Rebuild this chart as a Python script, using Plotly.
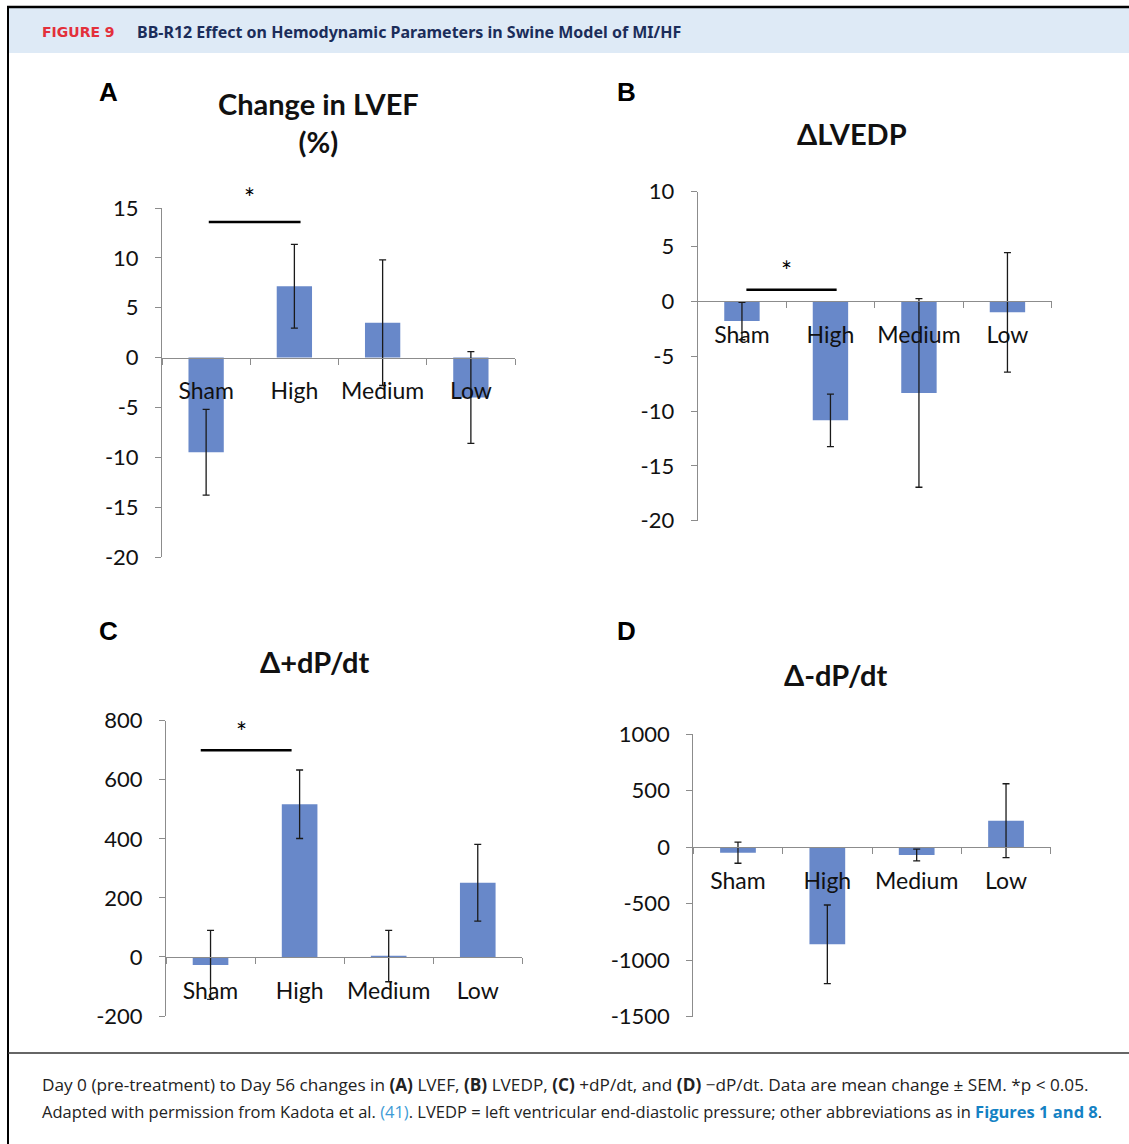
import plotly.graph_objects as go

# ---------------- data ----------------
categories = ["Sham", "High", "Medium", "Low"]

lvef_mean = [-9.5, 7.15, 3.5, -4.0]
lvef_sem = [4.3, 4.2, 6.3, 4.6]

lvedp_mean = [-1.8, -10.85, -8.35, -1.0]
lvedp_sem = [1.7, 2.4, 8.6, 5.45]

dpdt_pos_mean = [-27, 517, 3, 251]
dpdt_pos_sem = [117, 116, 87, 130]

dpdt_neg_mean = [-50, -860, -70, 233]
dpdt_neg_sem = [93, 348, 52, 327]

ticks_a = [-20, -15, -10, -5, 0, 5, 10, 15]
ticks_b = [-20, -15, -10, -5, 0, 5, 10]
ticks_c = [-200, 0, 200, 400, 600, 800]
ticks_d = [-1500, -1000, -500, 0, 500, 1000]

titles = ["Change in LVEF<br>(%)", "ΔLVEDP", "Δ+dP/dt", "Δ-dP/dt"]
letters = ["A", "B", "C", "D"]
sig_levels = [13.6, 1.07, 700, None]  # y of significance bar (Sham vs High)

header_label = "FIGURE 9"
header_title = "BB-R12 Effect on Hemodynamic Parameters in Swine Model of MI/HF"
caption_1 = ("Day 0 (pre-treatment) to Day 56 changes in <b>(A)</b> LVEF, <b>(B)</b> LVEDP, "
             "<b>(C)</b> +dP/dt, and <b>(D)</b> \u2212dP/dt. Data are mean change \u00b1 SEM. *p &lt; 0.05.")
caption_2 = ("Adapted with permission from Kadota et al. <span style='color:#3d9bd6'>(41)</span>. "
             "LVEDP = left ventricular end-diastolic pressure; other abbreviations as in "
             "<b><span style='color:#1582c4'>Figures 1 and 8</span></b>.")

# ---------------- style / layout ----------------
W, H = 1129, 1144
BAR = "#6888c9"
AX = "#8c8c8c"
TICKFONT = dict(family="Lato, Open Sans, sans-serif", size=22, color="#111111")
CATFONT = dict(family="Lato, Open Sans, sans-serif", size=23, color="#111111")


def px(x):
    return x / W


def py(y):
    return 1 - y / H


panels = [
    dict(mean=lvef_mean, sem=lvef_sem, ticks=ticks_a, x0=162, x1=515, ytop=208, ybot=557,
         title_xy=(318, 123), letter_xy=(109, 92), sig_x=(0.03, 1.07), star_dy=24),
    dict(mean=lvedp_mean, sem=lvedp_sem, ticks=ticks_b, x0=697.7, x1=1051.7, ytop=191.7, ybot=520.7,
         title_xy=(852, 133), letter_xy=(626, 92), sig_x=(0.05, 1.07), star_dy=19),
    dict(mean=dpdt_pos_mean, sem=dpdt_pos_sem, ticks=ticks_c, x0=166, x1=522.3, ytop=720.7, ybot=1016,
         title_xy=(315, 661), letter_xy=(109, 631), sig_x=(-0.11, 0.91), star_dy=18),
    dict(mean=dpdt_neg_mean, sem=dpdt_neg_sem, ticks=ticks_d, x0=693.3, x1=1050.7, ytop=734, ybot=1016.7,
         title_xy=(836, 674), letter_xy=(626, 631), sig_x=None, star_dy=0),
]

fig = go.Figure()
layout = dict(
    width=W, height=H, margin=dict(l=0, r=0, t=0, b=0, pad=0, autoexpand=False),
    autosize=False,
    paper_bgcolor="white", plot_bgcolor="rgba(0,0,0,0)",
    showlegend=False, bargap=0.6,
)
shapes = []
annotations = []

for i, p in enumerate(panels):
    n = "" if i == 0 else str(i + 1)
    xa, ya = "x" + n, "y" + n
    ymin, ymax = p["ticks"][0], p["ticks"][-1]
    dom_y = [py(p["ybot"]), py(p["ytop"])]
    zero_pos = dom_y[0] + (0 - ymin) / (ymax - ymin) * (dom_y[1] - dom_y[0])

    fig.add_trace(go.Bar(
        x=categories, y=p["mean"], xaxis=xa, yaxis=ya,
        marker=dict(color=BAR, line=dict(width=0)),
        error_y=dict(type="data", array=p["sem"], visible=True, color="#1a1a1a", thickness=1.3, width=3.5),
        hoverinfo="x+y",
    ))

    layout["xaxis" + n] = dict(
        domain=[px(p["x0"]), px(p["x1"])], anchor="free", position=zero_pos,
        type="category", range=[-0.5, 3.5], showline=True, linecolor=AX, linewidth=1,
        ticks="outside", tickson="boundaries", ticklen=6, tickcolor=AX, tickwidth=1,
        showgrid=False, zeroline=False, tickfont=CATFONT, ticklabelstandoff=13,
        tickangle=0, automargin=False, fixedrange=True,
    )
    layout["yaxis" + n] = dict(
        domain=dom_y, anchor=xa, range=[ymin, ymax], tickvals=p["ticks"],
        ticktext=[str(v) for v in p["ticks"]],
        showline=True, linecolor=AX, linewidth=1, ticks="outside", ticklen=6,
        tickcolor=AX, tickwidth=1, showgrid=False, zeroline=False,
        tickfont=TICKFONT, ticklabelstandoff=12, automargin=False, fixedrange=True,
    )

    # title and panel letter
    tx, ty = p["title_xy"]
    annotations.append(dict(
        x=px(tx), y=py(ty), xref="paper", yref="paper", text="<b>%s</b>" % titles[i],
        showarrow=False, xanchor="center", yanchor="middle",
        font=dict(family="Lato, Open Sans, sans-serif", size=29, color="#111111"),
    ))
    lx, ly = p["letter_xy"]
    annotations.append(dict(
        x=px(lx), y=py(ly), xref="paper", yref="paper", text="<b>%s</b>" % letters[i],
        showarrow=False, xanchor="center", yanchor="middle",
        font=dict(family="Liberation Sans, Arial, sans-serif", size=26, color="#000000"),
    ))

    # significance bar
    if sig_levels[i] is not None:
        sx0, sx1 = p["sig_x"]
        shapes.append(dict(type="line", xref=xa, yref=ya, x0=sx0, x1=sx1,
                           y0=sig_levels[i], y1=sig_levels[i], line=dict(color="#000000", width=2.5)))
        annotations.append(dict(
            x=(sx0 + sx1) / 2, y=sig_levels[i], xref=xa, yref=ya, text="*",
            showarrow=False, xanchor="center", yanchor="middle", yshift=p["star_dy"], xshift=-5,
            font=dict(family="Lato, sans-serif", size=26, color="#000000"),
        ))

# ---------- frame, header and caption ----------
shapes += [
    dict(type="rect", xref="paper", yref="paper", x0=px(9), x1=1, y0=py(53), y1=py(8),
         fillcolor="#deeaf6", line=dict(width=0), layer="below"),
    dict(type="line", xref="paper", yref="paper", x0=px(7), x1=1, y0=py(7), y1=py(7),
         line=dict(color="#000000", width=2.5)),
    dict(type="line", xref="paper", yref="paper", x0=px(8), x1=px(8), y0=0, y1=py(6),
         line=dict(color="#000000", width=2)),
    dict(type="line", xref="paper", yref="paper", x0=px(8), x1=1, y0=py(1053), y1=py(1053),
         line=dict(color="#333333", width=1.3)),
]

annotations += [
    dict(x=px(40), y=py(32), xref="paper", yref="paper", xanchor="left", yanchor="middle",
         showarrow=False,
         text="<b>%s</b>" % header_label,
         font=dict(family="DejaVu Sans, sans-serif", size=14, color="#e3303b")),
    dict(x=px(135), y=py(32), xref="paper", yref="paper", xanchor="left", yanchor="middle",
         showarrow=False, text="<b>%s</b>" % header_title,
         font=dict(family="Noto Sans, sans-serif", size=16, color="#1b2d5a")),
    dict(x=px(40), y=py(1084), xref="paper", yref="paper", xanchor="left", yanchor="middle",
         showarrow=False, text=caption_1,
         font=dict(family="Open Sans, sans-serif", size=17.2, color="#222222")),
    dict(x=px(40), y=py(1111), xref="paper", yref="paper", xanchor="left", yanchor="middle",
         showarrow=False, text=caption_2,
         font=dict(family="Open Sans, sans-serif", size=16.5, color="#222222")),
]

layout["shapes"] = shapes
layout["annotations"] = annotations
fig.update_layout(**layout)
fig.write_html("out.html", config={"displayModeBar": False})
